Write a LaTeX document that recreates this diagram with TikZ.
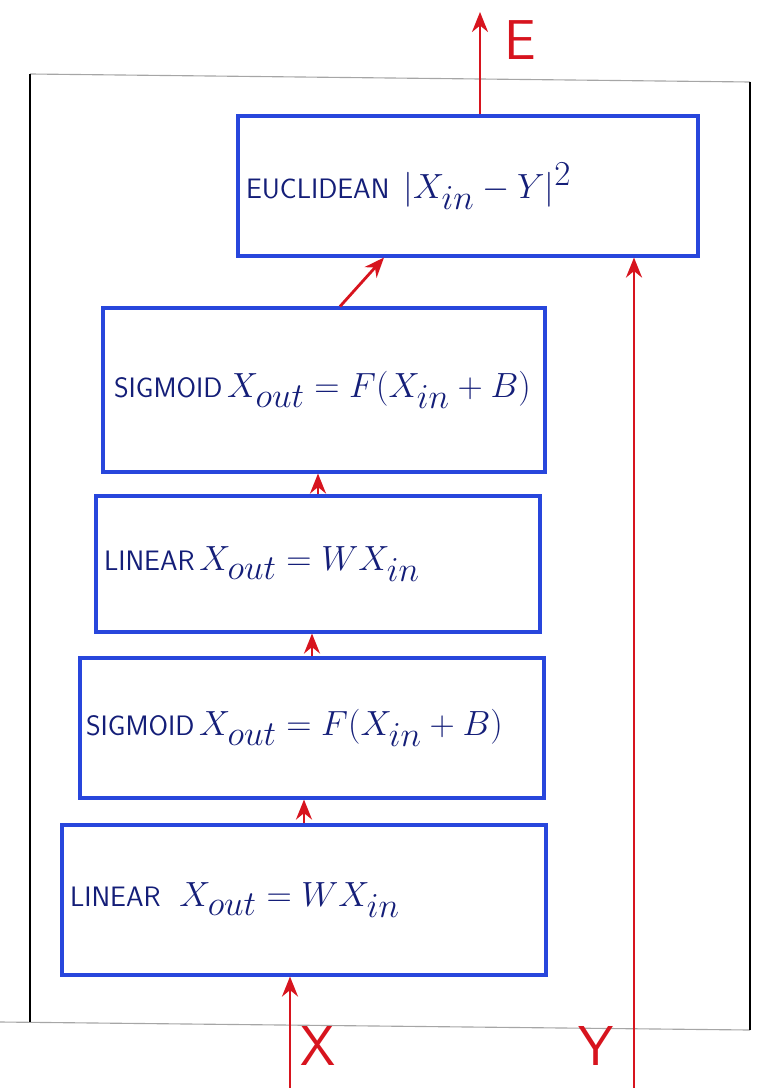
\documentclass[tikz,border=0pt]{standalone}
\usetikzlibrary{arrows.meta}
\definecolor{penblue}{RGB}{40,70,220}
\definecolor{inkblue}{RGB}{20,30,120}
\definecolor{penred}{RGB}{215,20,30}
\newcommand{\lyrname}[1]{{\fontsize{20}{24}\selectfont\sffamily #1}}
\newcommand{\lyrfun}[1]{{\fontsize{35}{40}\selectfont $#1$}}
\begin{document}
\begin{tikzpicture}[
  layer/.style={draw=penblue, line width=2.2pt, text=inkblue, inner sep=0pt, align=left},
  flow/.style={draw=penred, line width=2pt, -{Stealth[length=5mm,width=4mm]}},
  sig/.style={text=penred, font=\sffamily\fontsize{40}{48}\selectfont}
]
\useasboundingbox (0,0) rectangle (19,-27.2);
% outer frame
\draw[gray!70, line width=0.8pt] (0.75,-1.85) -- (18.75,-2.05);
\draw[gray!70, line width=0.8pt] (0.0,-25.55) -- (18.75,-25.75);
\draw[black, line width=2pt] (0.75,-1.85) -- (0.75,-25.55);
\draw[black, line width=2pt] (18.75,-2.05) -- (18.75,-25.75);
% layers
\node[layer, minimum width=11.5cm, minimum height=3.5cm, text width=11.1cm] (euc) at (11.7,-4.65)
  {\lyrname{EUCLIDEAN}\quad\lyrfun{|X_{in}-Y|^{2}}};
\node[layer, minimum width=11.05cm, minimum height=4.1cm, text width=10.5cm] (sigtop) at (8.1,-9.75)
  {\lyrname{SIGMOID} \lyrfun{X_{out}=F(X_{in}+B)}};
\node[layer, minimum width=11.1cm, minimum height=3.4cm, text width=10.7cm] (lintop) at (7.95,-14.1)
  {\lyrname{LINEAR} \lyrfun{X_{out}=WX_{in}}};
\node[layer, minimum width=11.6cm, minimum height=3.5cm, text width=11.3cm] (sigbot) at (7.8,-18.2)
  {\lyrname{SIGMOID} \lyrfun{X_{out}=F(X_{in}+B)}};
\node[layer, minimum width=12.1cm, minimum height=3.75cm, text width=11.7cm] (linbot) at (7.6,-22.5)
  {\lyrname{LINEAR} \quad\lyrfun{X_{out}=WX_{in}}};
% inputs and output
\coordinate (xin) at (7.25,-27.2);
\coordinate (yin) at (15.85,-27.2);
\coordinate (eout) at (12.0,-0.3);
\draw[flow] (xin) -- (xin |- linbot.south);
\draw[flow] (yin) -- (yin |- euc.south);
\draw[flow] (euc.north -| eout) -- (eout);
\draw[flow] (linbot.north) -- (linbot.north |- sigbot.south);
\draw[flow] (sigbot.north) -- (sigbot.north |- lintop.south);
\draw[flow] (lintop.north) -- (lintop.north |- sigtop.south);
\draw[flow] ([xshift=4mm]sigtop.north) -- ([xshift=-21mm]euc.south);
\node[sig] (xlab) at (7.95,-26.15) {X};
\node[sig] (ylab) at (14.9,-26.15) {Y};
\node[sig] (elab) at (13.0,-1.0) {E};
\end{tikzpicture}
\end{document}
